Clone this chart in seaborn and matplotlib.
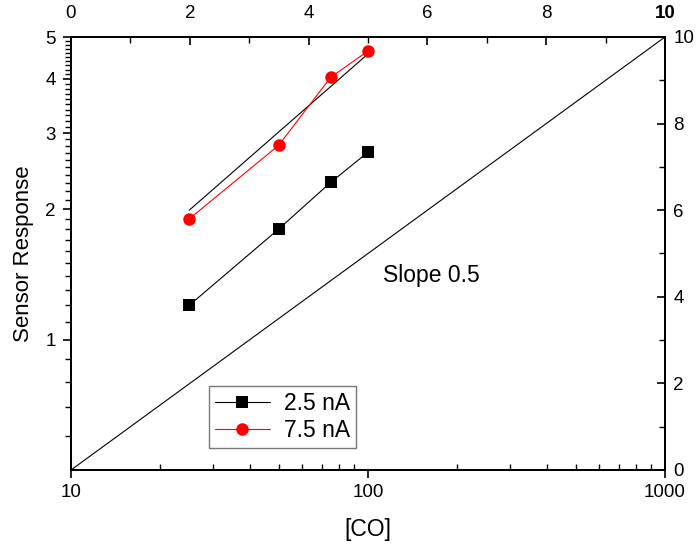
import matplotlib
matplotlib.use('Agg')
import matplotlib.pyplot as plt
import matplotlib.ticker as mticker
import seaborn as sns

# CO concentration and sensor response
co = [25, 50, 75, 100]
resp_25nA = [1.20, 1.80, 2.31, 2.71]
resp_75nA = [1.90, 2.81, 4.04, 4.64]

# straight fit through the 7.5 nA points
fit_co = [25, 100]
fit_resp = [1.99, 4.57]

# reference line of slope 0.5 (corner to corner)
slope_co = [10, 1000]
slope_resp = [0.5, 5]

sns.set_style('ticks')
plt.rcParams['font.family'] = ['Liberation Sans', 'DejaVu Sans']
plt.rcParams.update({'text.color': 'black', 'axes.labelcolor': 'black',
                     'xtick.color': 'black', 'ytick.color': 'black',
                     'axes.edgecolor': 'black'})

fig = plt.figure(figsize=(6.96, 5.45), dpi=100)
ax = fig.add_axes([71 / 696, 75 / 545, 594 / 696, 433 / 545])
ax.set_xscale('log')
ax.set_yscale('log')

sns.lineplot(x=slope_co, y=slope_resp, ax=ax, color='black', linewidth=0.8, legend=False)
sns.lineplot(x=fit_co, y=fit_resp, ax=ax, color='black', linewidth=0.8, legend=False)
sns.lineplot(x=co, y=resp_25nA, ax=ax, color='black', linewidth=0.8,
             marker='s', markersize=8, markeredgewidth=0, label='2.5 nA')
sns.lineplot(x=co, y=resp_75nA, ax=ax, color='#ff0000', linewidth=0.8,
             marker='o', markersize=9, markeredgewidth=0, label='7.5 nA')

ax.set_xlim(10, 1000)
ax.set_ylim(0.5, 5)

# bottom axis
ax.set_xticks([10, 100, 1000], labels=['10', '100', '1000'])
minor_x = [v * d for d in (10, 100) for v in range(2, 10)]
ax.xaxis.set_minor_locator(mticker.FixedLocator(minor_x))
ax.xaxis.set_minor_formatter(mticker.NullFormatter())
ax.tick_params(axis='x', which='major', direction='out', length=6, width=1.2,
               labelsize=13.5, pad=4, top=False)
ax.tick_params(axis='x', which='minor', direction='in', length=4, width=1, top=False)

# left axis
ax.set_yticks([1, 2, 3, 4, 5], labels=['1', '2', '3', '4', '5'])
minor_y = [round(0.1 * k, 1) for k in range(6, 50) if k % 10 != 0]
ax.yaxis.set_minor_locator(mticker.FixedLocator(minor_y))
ax.yaxis.set_minor_formatter(mticker.NullFormatter())
ax.tick_params(axis='y', which='major', direction='out', length=6, width=1.2,
               labelsize=13.5, pad=5, right=False)
ax.tick_params(axis='y', which='minor', direction='out', length=4, width=1, right=False)

for s in ax.spines.values():
    s.set_linewidth(1.4)

# top axis, linear 0-10
axt = ax.twiny()
axt.set_xlim(0, 10)
axt.set_xticks([0, 2, 4, 6, 8, 10])
axt.xaxis.set_minor_locator(mticker.FixedLocator([1, 3, 5, 7, 9]))
axt.tick_params(axis='x', which='major', direction='in', length=6, width=1.2,
                labelsize=13.5, pad=11)
axt.tick_params(axis='x', which='minor', direction='in', length=4, width=1)
axt.get_xticklabels()[-1].set_fontweight('bold')

# right axis, linear 0-10
axr = ax.twinx()
axr.set_ylim(0, 10)
axr.set_yticks([0, 2, 4, 6, 8, 10])
axr.yaxis.set_minor_locator(mticker.FixedLocator([1, 3, 5, 7, 9]))
axr.tick_params(axis='y', which='major', direction='in', length=6, width=1.2,
                labelsize=13.5, pad=6)
axr.tick_params(axis='y', which='minor', direction='in', length=4, width=1)

for a in (axt, axr):
    for s in a.spines.values():
        s.set_linewidth(1.4)

ax.text(0.525, 0.45, 'Slope 0.5', transform=ax.transAxes, fontsize=16.5, va='center')

ax.set_xlabel('[CO]', fontsize=16.5, labelpad=12)
ax.set_ylabel('Sensor Response', fontsize=16, labelpad=8)

leg = ax.legend(loc='lower left', bbox_to_anchor=(0.232, 0.051), frameon=True,
                fancybox=False, edgecolor='#555555', fontsize=16.5, handlelength=2.4,
                borderaxespad=0, borderpad=0.25, labelspacing=0.2, handletextpad=0.65)
leg.get_frame().set_linewidth(1)

fig.savefig('out.png', dpi=100)
